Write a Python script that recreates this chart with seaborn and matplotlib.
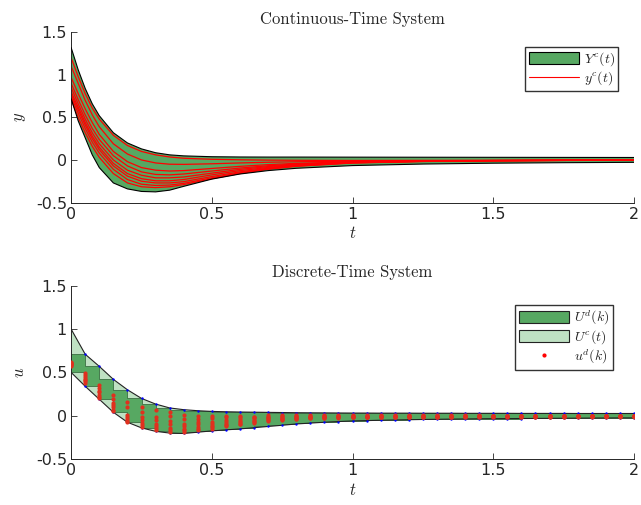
import numpy as np
import pandas as pd
import matplotlib
matplotlib.use('Agg')
import matplotlib.pyplot as plt
import seaborn as sns
from matplotlib.patches import Patch
from matplotlib.lines import Line2D

# ---- continuous-time system (top) ----
t_c = [0, 0.025, 0.05, 0.075, 0.1, 0.15, 0.2, 0.25, 0.3, 0.35,
       0.4, 0.5, 0.6, 0.7, 0.8, 1.0, 1.25, 1.5, 1.75, 2.0]
Y_upper = [1.32, 1.06, 0.84, 0.66, 0.52, 0.32, 0.20, 0.13, 0.085, 0.06,
           0.048, 0.038, 0.035, 0.034, 0.034, 0.033, 0.032, 0.031, 0.030, 0.029]
Y_lower = [0.72, 0.46, 0.26, 0.06, -0.09, -0.27, -0.34, -0.37, -0.375, -0.355,
           -0.31, -0.225, -0.165, -0.125, -0.098, -0.066, -0.048, -0.038, -0.032, -0.028]
y_traj = [
    [1.20, 0.98, 0.78, 0.61, 0.48, 0.29, 0.17, 0.10, 0.06, 0.035, 0.02, 0.008, 0.002, -0.002, -0.004, -0.006, -0.005, -0.004, -0.003, -0.002],
    [1.10, 0.90, 0.70, 0.53, 0.39, 0.19, 0.07, 0.0, -0.035, -0.05, -0.052, -0.045, -0.035, -0.027, -0.021, -0.014, -0.009, -0.006, -0.004, -0.003],
    [0.97, 0.78, 0.60, 0.44, 0.30, 0.10, -0.02, -0.09, -0.12, -0.13, -0.125, -0.10, -0.075, -0.055, -0.04, -0.022, -0.012, -0.007, -0.004, -0.003],
    [0.90, 0.71, 0.53, 0.37, 0.24, 0.05, -0.07, -0.14, -0.17, -0.175, -0.165, -0.13, -0.095, -0.068, -0.048, -0.025, -0.013, -0.007, -0.004, -0.003],
    [0.85, 0.66, 0.48, 0.32, 0.19, 0.0, -0.12, -0.18, -0.21, -0.21, -0.20, -0.155, -0.11, -0.078, -0.055, -0.028, -0.014, -0.008, -0.005, -0.003],
    [0.80, 0.62, 0.44, 0.28, 0.15, -0.04, -0.16, -0.22, -0.245, -0.245, -0.23, -0.175, -0.125, -0.088, -0.061, -0.03, -0.015, -0.008, -0.005, -0.003],
    [0.77, 0.59, 0.41, 0.25, 0.12, -0.07, -0.19, -0.25, -0.27, -0.27, -0.255, -0.195, -0.14, -0.097, -0.066, -0.032, -0.016, -0.009, -0.005, -0.003],
    [0.74, 0.55, 0.37, 0.21, 0.08, -0.11, -0.23, -0.285, -0.30, -0.295, -0.275, -0.21, -0.15, -0.105, -0.071, -0.034, -0.017, -0.009, -0.005, -0.003],
    [0.71, 0.50, 0.32, 0.16, 0.03, -0.16, -0.27, -0.315, -0.325, -0.315, -0.29, -0.22, -0.16, -0.11, -0.075, -0.036, -0.018, -0.010, -0.006, -0.003],
]

# ---- discrete-time system (bottom), sampled every 0.05 ----
t_k = [round(0.05 * k, 2) for k in range(41)]
U_upper = [1.0, 0.71, 0.57, 0.42, 0.30, 0.20, 0.135, 0.09, 0.07, 0.058,
           0.05, 0.046, 0.043, 0.041, 0.039, 0.037, 0.035, 0.034, 0.033, 0.032,
           0.031, 0.031, 0.030, 0.030, 0.030, 0.029, 0.029, 0.029, 0.028, 0.028,
           0.028, 0.028, 0.027, 0.027, 0.027, 0.027, 0.026, 0.026, 0.026, 0.026, 0.026]
U_lower = [0.5, 0.34, 0.19, 0.04, -0.075, -0.14, -0.18, -0.20, -0.205, -0.19,
           -0.175, -0.163, -0.152, -0.138, -0.124, -0.11, -0.095, -0.085, -0.075, -0.067,
           -0.06, -0.056, -0.052, -0.049, -0.046, -0.043, -0.041, -0.039, -0.037, -0.035,
           -0.034, -0.033, -0.032, -0.031, -0.030, -0.029, -0.028, -0.027, -0.026, -0.025, -0.025]
u_traj = [
    [0.62, 0.49, 0.35, 0.24, 0.16, 0.10, 0.07, 0.04, 0.01, 0.00,
     0.00, 0.00, -0.005, -0.01, 0.005, 0.005, 0.005, 0.008, 0.008, 0.007,
     0.006, 0.005, 0.005, 0.004, 0.004, 0.004, 0.003, 0.003, 0.003, 0.003,
     0.002, 0.002, 0.002, 0.002, 0.002, 0.001, 0.001, 0.001, 0.001, 0.001, 0.001],
    [0.61, 0.47, 0.32, 0.19, 0.10, 0.04, -0.01, 0.00, -0.04, -0.04,
     -0.03, -0.02, -0.02, -0.02, -0.01, -0.005, -0.005, 0.00, 0.00, 0.00,
     0.00, 0.00, 0.00, 0.00, 0.00, 0.00, 0.00, 0.00, 0.00, 0.00,
     0.00, 0.00, 0.00, 0.00, 0.00, 0.00, 0.00, 0.00, 0.00, 0.00, 0.00],
    [0.61, 0.45, 0.29, 0.15, 0.01, -0.01, -0.05, -0.06, -0.09, -0.07,
     -0.07, -0.05, -0.04, -0.03, -0.02, -0.015, -0.01, -0.01, -0.005, -0.005,
     -0.005, -0.004, -0.004, -0.004, -0.003, -0.003, -0.003, -0.003, -0.002, -0.002,
     -0.002, -0.002, -0.002, -0.001, -0.001, -0.001, -0.001, -0.001, -0.001, -0.001, -0.001],
    [0.60, 0.43, 0.27, 0.12, -0.02, -0.05, -0.09, -0.10, -0.12, -0.10,
     -0.09, -0.07, -0.06, -0.045, -0.03, -0.025, -0.02, -0.015, -0.01, -0.01,
     -0.01, -0.009, -0.008, -0.008, -0.007, -0.007, -0.006, -0.006, -0.005, -0.005,
     -0.005, -0.004, -0.004, -0.004, -0.004, -0.003, -0.003, -0.003, -0.003, -0.003, -0.003],
    [0.60, 0.41, 0.24, 0.10, -0.04, -0.08, -0.12, -0.14, -0.15, -0.13,
     -0.115, -0.09, -0.075, -0.06, -0.04, -0.035, -0.027, -0.02, -0.017, -0.015,
     -0.013, -0.012, -0.011, -0.011, -0.010, -0.010, -0.009, -0.009, -0.008, -0.008,
     -0.008, -0.007, -0.007, -0.007, -0.006, -0.006, -0.006, -0.006, -0.005, -0.005, -0.005],
    [0.59, 0.40, 0.22, 0.07, -0.06, -0.11, -0.145, -0.17, -0.17, -0.15,
     -0.135, -0.105, -0.09, -0.07, -0.05, -0.042, -0.034, -0.025, -0.022, -0.02,
     -0.017, -0.016, -0.015, -0.014, -0.013, -0.013, -0.012, -0.012, -0.011, -0.011,
     -0.010, -0.010, -0.010, -0.009, -0.009, -0.009, -0.008, -0.008, -0.008, -0.008, -0.007],
    [0.58, 0.38, 0.20, 0.05, -0.07, -0.13, -0.165, -0.19, -0.185, -0.165,
     -0.15, -0.12, -0.10, -0.08, -0.06, -0.05, -0.04, -0.03, -0.03, -0.025,
     -0.02, -0.019, -0.018, -0.017, -0.016, -0.016, -0.015, -0.015, -0.014, -0.014,
     -0.013, -0.013, -0.012, -0.012, -0.012, -0.011, -0.011, -0.011, -0.010, -0.010, -0.010],
]

dark_green = '#57a862'
light_green = '#bfe1c3'

sns.set_style('ticks')
plt.rcParams['font.family'] = ['DejaVu Sans']
plt.rcParams['mathtext.fontset'] = 'cm'

# long-form tables for seaborn
df_y = pd.DataFrame([(i, t, v) for i, tr in enumerate(y_traj) for t, v in zip(t_c, tr)],
                    columns=['traj', 't', 'y'])
df_u = pd.DataFrame([(i, t, v) for i, tr in enumerate(u_traj) for t, v in zip(t_k, tr)],
                    columns=['traj', 't', 'u'])

fig = plt.figure(figsize=(6.41, 5.05), dpi=100)
ax1 = fig.add_axes([0.111, 0.599, 0.878, 0.337])
ax2 = fig.add_axes([0.111, 0.091, 0.878, 0.343])

leg_kw = dict(loc='upper right', fontsize=10, frameon=True, fancybox=False,
              edgecolor='#333333', framealpha=1, handlelength=3.6, handleheight=0.95,
              borderpad=0.25, labelspacing=0.12, handletextpad=0.35, borderaxespad=0.0)

# 1. Continuous-time system
ax1.fill_between(t_c, Y_lower, Y_upper, facecolor=dark_green, edgecolor='none', zorder=1)
ax1.plot(t_c, Y_upper, color='k', lw=0.8, zorder=3)
ax1.plot(t_c, Y_lower, color='k', lw=0.8, zorder=3)
sns.lineplot(data=df_y, x='t', y='y', units='traj', estimator=None, color='red',
             lw=0.9, ax=ax1, zorder=2, legend=False)
ax1.set_title('Continuous-Time System', fontfamily='cmr10', fontsize=12, pad=6)
ax1.set_xlabel('$t$', fontsize=12, labelpad=2)
ax1.set_ylabel('$y$', fontsize=12, labelpad=6)
ax1.legend(handles=[Patch(facecolor=dark_green, edgecolor='k', lw=0.8, label='$Y^c(t)$'),
                    Line2D([], [], color='red', lw=0.8, label='$y^c(t)$')],
           bbox_to_anchor=(0.972, 0.915), **leg_kw)

# 2. Discrete-time system
lower_d = [max(U_lower[k], U_lower[min(k + 1, 40)]) for k in range(41)]
upper_d = [min(U_upper[k], U_upper[min(k + 1, 40)]) for k in range(41)]
ax2.fill_between(t_k, U_lower, U_upper, facecolor=light_green, edgecolor='none', zorder=1)
ax2.plot(t_k, U_upper, color='#222222', lw=0.8, zorder=3)
ax2.plot(t_k, U_lower, color='#222222', lw=0.8, zorder=3)
ax2.fill_between(t_k, lower_d, upper_d, step='post', facecolor=dark_green,
                 edgecolor='#3b6f42', lw=0.6, zorder=2)
ax2.scatter(t_k[1:], U_upper[1:], s=3, color='blue', zorder=4, linewidths=0)
ax2.scatter(t_k[1:], U_lower[1:], s=3, color='blue', zorder=4, linewidths=0)
sns.scatterplot(data=df_u, x='t', y='u', color='#e0301e', s=9, linewidth=0,
                ax=ax2, zorder=5, legend=False)
ax2.set_title('Discrete-Time System', fontfamily='cmr10', fontsize=12, pad=6)
ax2.set_xlabel('$t$', fontsize=12, labelpad=2)
ax2.set_ylabel('$u$', fontsize=12, labelpad=6)
ax2.legend(handles=[Patch(facecolor=dark_green, edgecolor='#222222', lw=0.8, label='$U^d(k)$'),
                    Patch(facecolor=light_green, edgecolor='#222222', lw=0.8, label='$U^c(t)$'),
                    Line2D([], [], color='red', marker='.', ls='none', markersize=4,
                           label='$u^d(k)$')],
           bbox_to_anchor=(0.962, 0.89), **leg_kw)

for ax in (ax1, ax2):
    ax.set_xlim(0, 2)
    ax.set_ylim(-0.5, 1.5)
    ax.set_xticks([0, 0.5, 1, 1.5, 2])
    ax.set_xticklabels(['0', '0.5', '1', '1.5', '2'])
    ax.set_yticks([-0.5, 0, 0.5, 1, 1.5])
    ax.set_yticklabels(['-0.5', '0', '0.5', '1', '1.5'])
    ax.tick_params(direction='in', length=4, width=0.6, labelsize=11.5,
                   colors='#262626', pad=3)
    for s in ('top', 'right'):
        ax.spines[s].set_visible(False)
    for s in ('left', 'bottom'):
        ax.spines[s].set_color('#262626')
        ax.spines[s].set_linewidth(0.7)

fig.savefig('out.png', dpi=100)
